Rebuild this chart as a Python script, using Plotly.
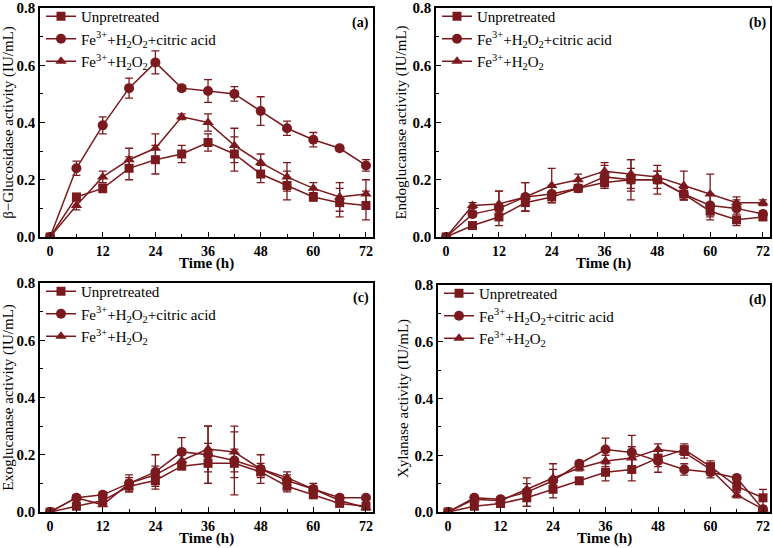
import plotly.graph_objects as go

time_h = [0, 6, 12, 18, 24, 30, 36, 42, 48, 54, 60, 66, 72]
series_names = ["Unpretreated",
                "Fe<sup>3+</sup>+H<sub>2</sub>O<sub>2</sub>+citric acid",
                "Fe<sup>3+</sup>+H<sub>2</sub>O<sub>2</sub>"]
panel_labels = ["(a)", "(b)", "(c)", "(d)"]
y_titles = ["β−Glucosidase activity (IU/mL)", "Endoglucanase activity (IU/mL)",
            "Exoglucanase activity (IU/mL)", "Xylanase activity (IU/mL)"]
x_title = "Time (h)"
x_ticks = [0, 12, 24, 36, 48, 60, 72]
y_ticks = [0.0, 0.2, 0.4, 0.6, 0.8]

# (a) beta-glucosidase
a_unpre = [0, 0.14, 0.17, 0.24, 0.27, 0.29, 0.33, 0.29, 0.22, 0.18, 0.14, 0.12, 0.11]
a_unpre_err = [0.005, 0.01, 0.015, 0.04, 0.05, 0.03, 0.03, 0.06, 0.03, 0.05, 0.015, 0.05, 0.05]
a_citric = [0, 0.24, 0.39, 0.52, 0.61, 0.52, 0.51, 0.50, 0.44, 0.38, 0.34, 0.31, 0.25]
a_citric_err = [0.005, 0.025, 0.03, 0.035, 0.04, 0.01, 0.04, 0.025, 0.05, 0.025, 0.025, 0.01, 0.02]
a_fe = [0, 0.11, 0.21, 0.27, 0.31, 0.42, 0.40, 0.32, 0.26, 0.21, 0.17, 0.14, 0.15]
a_fe_err = [0.005, 0.015, 0.02, 0.04, 0.05, 0.01, 0.03, 0.06, 0.03, 0.05, 0.02, 0.05, 0.05]

# (b) endoglucanase
b_unpre = [0, 0.04, 0.07, 0.12, 0.14, 0.17, 0.19, 0.20, 0.20, 0.15, 0.09, 0.06, 0.07]
b_unpre_err = [0.003, 0.005, 0.01, 0.03, 0.02, 0.01, 0.02, 0.04, 0.03, 0.02, 0.03, 0.02, 0.01]
b_citric = [0, 0.08, 0.10, 0.14, 0.15, 0.17, 0.21, 0.20, 0.20, 0.15, 0.11, 0.10, 0.08]
b_citric_err = [0.003, 0.01, 0.06, 0.05, 0.03, 0.01, 0.04, 0.07, 0.05, 0.02, 0.04, 0.03, 0.01]
b_fe = [0, 0.11, 0.115, 0.14, 0.18, 0.20, 0.23, 0.22, 0.21, 0.18, 0.15, 0.12, 0.12]
b_fe_err = [0.003, 0.01, 0.045, 0.05, 0.06, 0.02, 0.03, 0.05, 0.02, 0.05, 0.07, 0.02, 0.01]

# (c) exoglucanase
c_unpre = [0, 0.02, 0.04, 0.09, 0.11, 0.16, 0.17, 0.17, 0.14, 0.09, 0.06, 0.03, 0.02]
c_unpre_err = [0.003, 0.005, 0.01, 0.02, 0.02, 0.01, 0.07, 0.11, 0.02, 0.02, 0.01, 0.01, 0.005]
c_citric = [0, 0.05, 0.06, 0.10, 0.14, 0.21, 0.20, 0.18, 0.15, 0.11, 0.08, 0.05, 0.05]
c_citric_err = [0.003, 0.01, 0.01, 0.03, 0.06, 0.05, 0.10, 0.04, 0.05, 0.02, 0.02, 0.01, 0.005]
c_fe = [0, 0.05, 0.025, 0.10, 0.13, 0.18, 0.22, 0.21, 0.15, 0.12, 0.08, 0.04, 0.015]
c_fe_err = [0.003, 0.005, 0.005, 0.02, 0.03, 0.03, 0.08, 0.09, 0.02, 0.02, 0.01, 0.01, 0.005]

# (d) xylanase
d_unpre = [0, 0.02, 0.03, 0.05, 0.08, 0.11, 0.14, 0.15, 0.19, 0.22, 0.16, 0.09, 0.05]
d_unpre_err = [0.003, 0.005, 0.01, 0.03, 0.03, 0.01, 0.03, 0.04, 0.03, 0.02, 0.02, 0.02, 0.03]
d_citric = [0, 0.05, 0.045, 0.07, 0.11, 0.17, 0.22, 0.21, 0.18, 0.15, 0.14, 0.12, 0.01]
d_citric_err = [0.003, 0.01, 0.01, 0.05, 0.04, 0.01, 0.04, 0.06, 0.04, 0.02, 0.02, 0.01, 0.005]
d_fe = [0, 0.045, 0.04, 0.08, 0.12, 0.155, 0.18, 0.19, 0.22, 0.21, 0.15, 0.06, 0.01]
d_fe_err = [0.003, 0.005, 0.01, 0.02, 0.05, 0.01, 0.02, 0.04, 0.02, 0.02, 0.02, 0.01, 0.005]

panels = [
    [(a_unpre, a_unpre_err), (a_citric, a_citric_err), (a_fe, a_fe_err)],
    [(b_unpre, b_unpre_err), (b_citric, b_citric_err), (b_fe, b_fe_err)],
    [(c_unpre, c_unpre_err), (c_citric, c_citric_err), (c_fe, c_fe_err)],
    [(d_unpre, d_unpre_err), (d_citric, d_citric_err), (d_fe, d_fe_err)],
]

COLOR = "#7b1a1e"
FONT = "Liberation Serif"
W, H = 773, 548
# plot-area boxes in pixels: (left, right, top, bottom)
boxes = [(40, 373, 8, 237), (436, 770, 8, 237), (40, 373, 283, 512), (438, 770, 285, 512)]
symbols = ["square", "circle", "triangle-up"]
msizes = [9, 10, 10]

fig = go.Figure()
for i, (series, box) in enumerate(zip(panels, boxes)):
    n = "" if i == 0 else str(i + 1)
    legname = "legend" + n
    for j, (vals, errs) in enumerate(series):
        fig.add_trace(go.Scatter(
            x=time_h, y=vals, mode="lines+markers", name=series_names[j],
            xaxis="x" + n, yaxis="y" + n, legend=legname,
            line=dict(color=COLOR, width=1.5),
            marker=dict(symbol=symbols[j], size=msizes[j], color=COLOR),
            error_y=dict(type="data", array=errs, visible=True, color=COLOR,
                         thickness=1.3, width=4),
        ))
    l, r, t, b = box
    xdom = [l / W, r / W]
    ydom = [1 - b / H, 1 - t / H]
    axis_common = dict(showline=True, linecolor="black", linewidth=1.5, mirror=True,
                       ticks="inside", ticklen=5, tickwidth=1.3, tickcolor="black",
                       showgrid=False, zeroline=False)
    fig.update_layout(**{
        "xaxis" + n: dict(domain=xdom, anchor="y" + n, range=[-2.3, 73.6],
                          tickvals=x_ticks,
                          tickfont=dict(family=FONT, size=14, color="black", weight="bold"),
                          minor=dict(tickvals=[6, 18, 30, 42, 54, 66], ticks="inside",
                                     ticklen=3, tickcolor="black"),
                          **axis_common),
        "yaxis" + n: dict(domain=ydom, anchor="x" + n, range=[0, 0.8],
                          tickvals=y_ticks, tickformat=".1f",
                          tickfont=dict(family=FONT, size=15, color="black", weight="bold"),
                          minor=dict(tickvals=[0.1, 0.3, 0.5, 0.7], ticks="inside",
                                     ticklen=3, tickcolor="black"),
                          title=dict(text=y_titles[i], standoff=2,
                                     font=dict(family=FONT, size=15, color="black")),
                          **axis_common),
        legname: dict(x=(l + 1) / W, xanchor="left", y=1 - (t - 8) / H, yanchor="top",
                      bgcolor="rgba(0,0,0,0)", borderwidth=0, tracegroupgap=0,
                      font=dict(family=FONT, size=15, color="black")),
    })
    fig.add_annotation(text="<b>" + panel_labels[i] + "</b>", xref="x" + n + " domain",
                       yref="y" + n + " domain", x=0.995, y=0.98, xanchor="right",
                       yanchor="top", showarrow=False,
                       font=dict(family=FONT, size=14, color="black"))
    fig.add_annotation(text="<b>" + x_title + "</b>", xref="x" + n + " domain",
                       yref="paper", x=0.5, y=1 - (b + 26) / H, xanchor="center",
                       yanchor="middle", showarrow=False,
                       font=dict(family=FONT, size=15, color="black"))

fig.update_layout(width=W, height=H, margin=dict(l=0, r=0, t=0, b=0, autoexpand=False),
                  plot_bgcolor="white", paper_bgcolor="white", showlegend=True)
fig.write_html("out.html", config={"displayModeBar": False},
               post_script="document.body.style.margin='0px';")
